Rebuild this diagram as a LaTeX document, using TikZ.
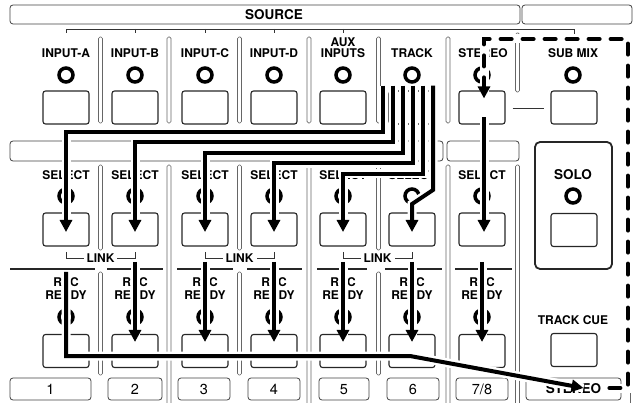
\documentclass[tikz,border=0pt]{standalone}
\usepackage{fontspec}
\setmainfont{TeX Gyre Heros}
\usetikzlibrary{arrows.meta, calc}
\tikzset{
    x=1pt, y=-1pt, % one unit per pixel, y runs downwards
    panel/.style={draw=black!75, line width=0.8pt, rounded corners=3pt}, % label strips and number boxes
    button/.style={draw=black!85, line width=1.1pt, rounded corners=2.5pt, minimum width=46pt, minimum height=33pt, inner sep=0pt},
    led/.style={circle, draw=black, line width=3.5pt, minimum size=14pt, inner sep=0pt},
    lbl/.style={font=\bfseries\fontsize{12}{12}\selectfont, inner sep=0pt},
    biglbl/.style={font=\bfseries\fontsize{13.5}{14}\selectfont, inner sep=0pt},
    numlbl/.style={font=\fontsize{14.5}{15}\selectfont, inner sep=0pt},
    divider/.style={draw=black!60, line width=0.7pt, rounded corners=1.5pt}, % thin strips between channels
    bracket/.style={draw=black!80, line width=0.9pt},
    rowline/.style={draw=black!85, line width=1.6pt},
    route/.style={line width=4pt, preaction={draw=white, line width=9pt, solid, arrows=-}, -{Triangle[width=12pt, length=12pt]}}, % signal path with white gap
    cueroute/.style={route, dash pattern=on 11pt off 11pt, line cap=round},
}

\begin{document}
\begin{tikzpicture}
    \useasboundingbox (0,0) rectangle (637,403);
    % top strips
    \node[panel, minimum width=510pt, minimum height=19pt] (sourcebar) at (265,14.5) {};
    \node[biglbl] (sourcelbl) at (274,15) {SOURCE};
    \draw[panel] (522,5) rectangle (632,24);
    \draw[bracket] (66,33) |- (574,29) -- (574,43);
    \foreach \tx in {135,205,274,343}
        \draw[bracket] (\tx,29) -- (\tx,33);
    \draw[panel] (10,141) rectangle (443,161);
    \draw[panel] (447,141) rectangle (519,161);
    % strips between channels
    \foreach \s in {100.5,169,239.5,309,378.5,448}
        \draw[divider] (\s-2,37) rectangle (\s+2,123);
    \draw[divider] (515.5,33) rectangle (519.5,92);
    \foreach \s in {169,309,448,517.5}
        \draw[divider] (\s-2,165) rectangle (\s+2,410);
    \foreach \s in {100.5,239.5,378.5} {
        \draw[divider] (\s-2,165) rectangle (\s+2,250);
        \draw[divider] (\s-2,272) rectangle (\s+2,375);
    }
    \draw[divider] (630,390) -- (630,405);
    \foreach \a/\b in {10/95,107/163,177/233,247/302,317/367,385/442,455/512}
        \draw[rowline] (\a,269) -- (\b,269);
    % channel strips
    \foreach \cx/\name in {66/INPUT-A,135/INPUT-B,205/INPUT-C,274/INPUT-D,412/TRACK,483/STEREO}
        \node[lbl] (srclbl\cx) at (\cx,53) {\name};
    \node[lbl] (auxlbl) at (343,42) {AUX};
    \node[lbl] (inputslbl) at (343,53) {INPUTS};
    \foreach \cx [count=\i] in {66,135,205,274,343,412,482} {
        \node[led] (src\i) at (\cx,75) {};
        \node[button] (srcbtn\i) at (\cx,107.5) {};
        \node[lbl] (sellbl\i) at (\cx,175) {SELECT};
        \node[led] (selled\i) at (\cx,196) {};
        \node[button] (sel\i) at (\cx,229.5) {};
        \node[lbl] (reclbl\i) at (\cx,282) {REC};
        \node[lbl] (readylbl\i) at (\cx,295) {READY};
        \node[led] (recled\i) at (\cx,317) {};
        \node[button] (rec\i) at (\cx,351) {};
    }
    \foreach \a/\b [count=\i] in {1/2,3/4,5/6} {
        \draw[bracket] (sel\a |- 0,252) |- (sel\b |- 0,258) -- (sel\b |- 0,252);
        \node[lbl, fill=white, inner xsep=3pt] (link\i) at ($(sel\a |- 0,258)!0.5!(sel\b |- 0,258)$) {LINK};
    }
    \foreach \a/\b/\num [count=\i] in {10/91/1,108/162/2,178/230/3,248/300/4,319/369/5,387/439/6,456/508/{7/8}} {
        \draw[panel] (\a,378) rectangle (\b,400);
        \node[numlbl] (num\i) at ({(\a+\b)/2},389.5) {\num};
    }
    % right hand column
    \node[lbl] (submixlbl) at (573,53) {SUB MIX};
    \node[led] (submixled) at (573,75) {};
    \node[button] (submixbtn) at (574,107.5) {};
    \draw[bracket] ($(srcbtn7.east)+(7,0.5)$) -- ($(submixbtn.west)+(-6,0.5)$);
    \node[draw=black!85, line width=1.8pt, rounded corners=5pt, minimum width=77pt, minimum height=127pt] (solobox) at (573.5,205.5) {};
    \node[biglbl] (sololbl) at (573,175) {SOLO};
    \node[led] (sololed) at (573,196) {};
    \node[button] (solobtn) at (574,230) {};
    \node[lbl] (cuelbl) at (573,320) {TRACK CUE};
    \node[button] (cuebtn) at (574,350) {};
    \node[panel, biglbl, minimum width=95pt, minimum height=22pt] (stereobox) at (573.5,389) {STEREO};
    % track to the select keys
    \foreach \k in {0,...,4} {
        \pgfmathtruncatemacro{\ch}{\k+1}
        \pgfmathsetmacro{\ty}{132+10.5*\k}
        \coordinate (trk\ch) at ($(src6.south)+(10*\k-29,2)$);
        \draw[route] (trk\ch) |- (sel\ch |- 0,\ty) -- ($(sel\ch.center)+(0,2.5)$);
    }
    \coordinate (trk6) at ($(src6.south)+(21,2)$);
    \draw[route] (trk6) -- (trk6 |- 0,190) -- (sel6 |- 0,204) -- ($(sel6.center)+(0,2.5)$);
    \draw[route] ($(srcbtn7.center)+(2,10)$) -- ($(sel7.center)+(2,2.5)$);
    % rec ready
    \foreach \i in {2,...,7}
        \draw[route] (rec\i |- 0,262) -- ($(rec\i.north)+(0,8)$);
    \coordinate (mixbend) at (410,356);
    \draw[route] (rec1 |- 0,272) |- (mixbend) -- ($(stereobox.center)+(10,-1)$);
    % stereo back to the source
    \coordinate (cuecorner) at (628,39);
    \draw[cueroute] ($(stereobox.east)+(-12,-1)$) -| (cuecorner) -| ($(srcbtn7.north)+(2,8)$);
\end{tikzpicture}
\end{document}
